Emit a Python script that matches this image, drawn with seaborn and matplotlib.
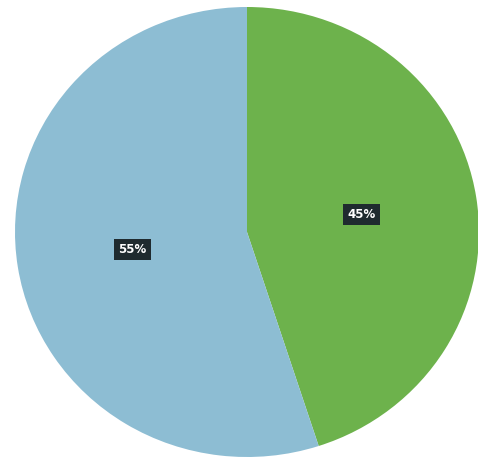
import matplotlib
matplotlib.use("Agg")
import matplotlib.pyplot as plt
import seaborn as sns

# data
labels = ["Green", "Blue"]
shares = [45, 55]
colors = ["#6db24c", "#8dbdd3"]

sns.set_theme(style="white")
plt.rcParams["font.family"] = ["DejaVu Sans"]

fig = plt.figure(figsize=(4.78, 4.61), dpi=100)
ax = fig.add_axes([15 / 478, 4 / 461, 464 / 478, 450 / 461])

wedges, texts, autotexts = ax.pie(
    shares,
    colors=colors,
    startangle=90,
    counterclock=False,
    autopct="%d%%",
    pctdistance=0.5,
    wedgeprops=dict(linewidth=0),
    textprops=dict(color="white", fontsize=8.5, fontweight="bold"),
)
for t in autotexts:
    t.set_bbox(dict(boxstyle="square,pad=0.35", facecolor="#1f2b2f", edgecolor="none"))

ax.set_aspect("auto")
ax.set_xlim(-1, 1)
ax.set_ylim(-1, 1)
ax.axis("off")

fig.savefig("out.png", dpi=100)
